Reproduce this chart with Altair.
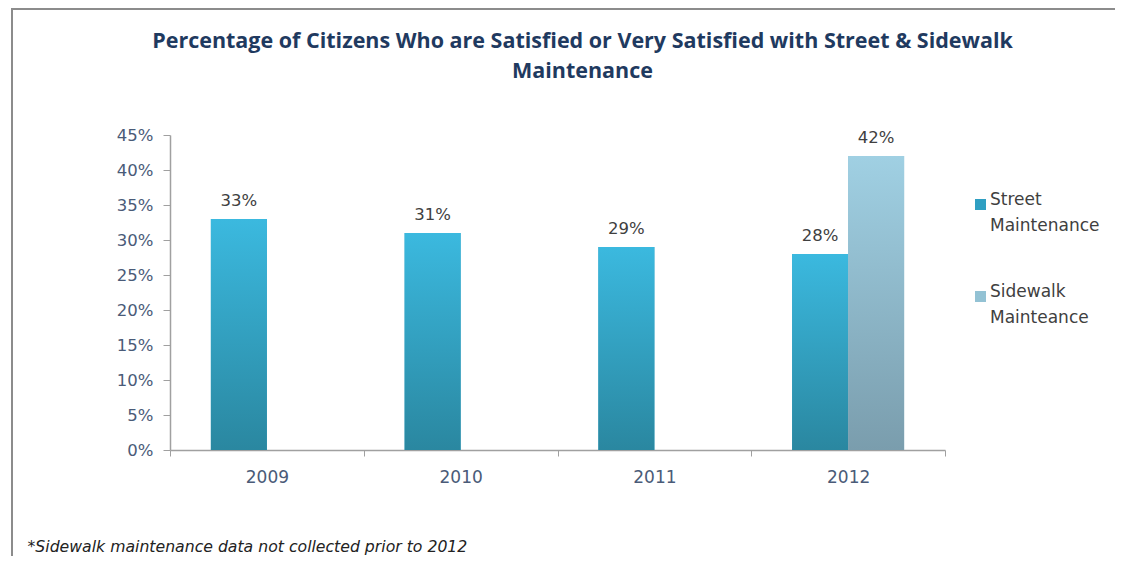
import altair as alt
import pandas as pd

years = ["2009", "2010", "2011", "2012"]
street = [0.33, 0.31, 0.29, 0.28]
sidewalk = [None, None, None, 0.42]
series_names = ["Street Maintenance", "Sidewalk Mainteance"]
y_ticks = [0, 0.05, 0.10, 0.15, 0.20, 0.25, 0.30, 0.35, 0.40, 0.45]
title_lines = [
    "Percentage of Citizens Who are Satisfied or Very Satisfied with Street & Sidewalk",
    "Maintenance",
]
footnote = "*Sidewalk maintenance  data not collected prior to 2012"

rows = []
for yr, s, w in zip(years, street, sidewalk):
    if s is not None:
        rows.append({"year": yr, "series": series_names[0], "value": s})
    if w is not None:
        rows.append({"year": yr, "series": series_names[1], "value": w})
df = pd.DataFrame(rows)

W, H = 775, 315
PAD = {"left": 162, "top": 127, "right": 170, "bottom": 106}

grad_street = {
    "gradient": "linear", "x1": 0, "y1": 0, "x2": 0, "y2": 1,
    "stops": [{"offset": 0, "color": "#3bb9df"}, {"offset": 1, "color": "#2a87a0"}],
}
grad_side = {
    "gradient": "linear", "x1": 0, "y1": 0, "x2": 0, "y2": 1,
    "stops": [{"offset": 0, "color": "#a0d0e3"}, {"offset": 1, "color": "#7a9dad"}],
}

FONT = "DejaVu Sans"
TITLE_FONT = "Open Sans"
LABEL_COLOR = "#4a5b78"
GRID_GRAY = "#a0a0a0"

x_enc = alt.X(
    "year:N",
    sort=years,
    scale=alt.Scale(paddingInner=0, paddingOuter=0),
    axis=alt.Axis(
        labelAngle=0, labelFont=FONT, labelFontSize=17, labelColor=LABEL_COLOR,
        labelPadding=13, tickBand="extent", tickSize=6, tickColor=GRID_GRAY,
        domainColor=GRID_GRAY, domainWidth=1.5,
        title=footnote, titleX=-143, titleY=96, titleAlign="left",
        titleBaseline="middle", titleAnchor="start", titleFont=FONT,
        titleFontStyle="italic", titleFontWeight="normal", titleFontSize=15.7,
        titleColor="#222222",
    ),
)
xo_enc = alt.XOffset(
    "series:N", scale=alt.Scale(domain=series_names, paddingInner=0, paddingOuter=0.73)
)
y_enc = alt.Y(
    "value:Q",
    scale=alt.Scale(domain=[0, 0.45], nice=False),
    axis=alt.Axis(
        values=y_ticks, format=".0%", grid=False, labelFont=FONT, labelFontSize=16.5,
        labelColor=LABEL_COLOR, labelPadding=10, tickSize=7, tickColor=GRID_GRAY,
        domainColor=GRID_GRAY, domainWidth=1.5, title=None,
    ),
)

base = alt.Chart(df).encode(x=x_enc, xOffset=xo_enc, y=y_enc)

legend_bars = base.mark_bar().encode(
    color=alt.Color(
        "series:N",
        scale=alt.Scale(domain=series_names, range=["#2f9fc2", "#93c2d4"]),
        legend=alt.Legend(
            title=None, orient="none", legendX=802, legendY=61,
            labelExpr="split(datum.label, ' ')", labelFont=FONT, labelFontSize=17,
            labelColor="#404040", labelBaseline="alphabetic", symbolType="square",
            symbolSize=121, symbolStrokeWidth=0, rowPadding=48, labelOffset=1,
            labelLimit=300,
        ),
    )
)

street_bars = base.mark_bar(fill=grad_street).transform_filter(
    alt.datum.series == series_names[0]
)
side_bars = base.mark_bar(fill=grad_side).transform_filter(
    alt.datum.series == series_names[1]
)

labels = base.mark_text(
    baseline="alphabetic", dy=-13, font=FONT, fontSize=16.5, color="#404040"
).encode(text=alt.Text("value:Q", format=".0%"))

frame_left = alt.Chart(df).mark_rule(color="#8c8c8c", strokeWidth=2).encode(
    x=alt.value(-158), y=alt.value(-127), y2=alt.value(H + PAD["bottom"])
)
frame_top = alt.Chart(df).mark_rule(color="#8c8c8c", strokeWidth=2).encode(
    x=alt.value(-159), x2=alt.value(W + PAD["right"]), y=alt.value(-126)
)

chart = (
    alt.layer(legend_bars, street_bars, side_bars, labels, frame_left, frame_top)
    .properties(
        width=W,
        height=H,
        padding=PAD,
        autosize=alt.AutoSizeParams(type="none"),
        title=alt.TitleParams(
            text=title_lines, font=TITLE_FONT, fontSize=21.5, fontWeight="bold",
            color="#1f3a60", anchor="middle", dx=25, offset=52, dy=127,
            lineHeight=30,
        ),
    )
    .configure(style={"guide-label": {"lineHeight": 26}})
    .configure_view(stroke=None)
)

chart.save("out.html", embed_options={"renderer": "svg", "actions": False})
